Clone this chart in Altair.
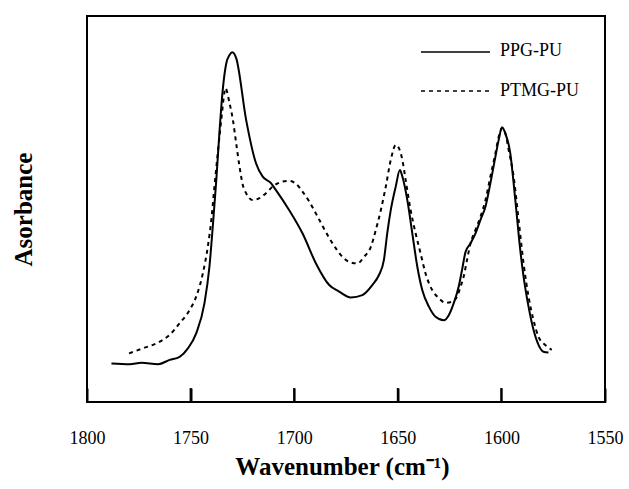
import altair as alt
import pandas as pd

# ---- data ----
series_names = ["PPG-PU", "PTMG-PU"]

ppg_wavenumber = [1788.2, 1779.4, 1773.7, 1765.7, 1760.1, 1755.3, 1751.3, 1747.3, 1743.3, 1740.9,
                  1739.3, 1737.6, 1736.0, 1734.5, 1732.8, 1731.2, 1729.9, 1728.0, 1723.2, 1718.4,
                  1715.2, 1711.2, 1708.8, 1702.4, 1696.0, 1689.5, 1683.1, 1678.3, 1672.7, 1667.1,
                  1662.3, 1659.1, 1656.7, 1655.1, 1653.4, 1651.0, 1649.0, 1647.8, 1645.4, 1643.0,
                  1640.6, 1638.2, 1635.0, 1631.8, 1627.8, 1625.4, 1623.0, 1620.6, 1619.0, 1617.3,
                  1614.9, 1612.5, 1610.1, 1607.7, 1605.3, 1602.9, 1601.3, 1599.7, 1598.1, 1595.7,
                  1594.1, 1592.5, 1590.9, 1589.3, 1586.9, 1584.5, 1582.1, 1579.7, 1577.3]
ppg_absorbance = [0.100, 0.098, 0.102, 0.098, 0.109, 0.117, 0.139, 0.178, 0.256, 0.351,
                  0.454, 0.575, 0.705, 0.808, 0.877, 0.899, 0.906, 0.891, 0.731, 0.618,
                  0.584, 0.567, 0.549, 0.497, 0.437, 0.359, 0.303, 0.286, 0.271, 0.277,
                  0.303, 0.329, 0.368, 0.437, 0.497, 0.558, 0.601, 0.584, 0.523, 0.437,
                  0.351, 0.290, 0.247, 0.221, 0.212, 0.225, 0.256, 0.299, 0.342, 0.389,
                  0.411, 0.437, 0.472, 0.506, 0.567, 0.635, 0.679, 0.712, 0.696, 0.644,
                  0.567, 0.480, 0.394, 0.325, 0.247, 0.187, 0.148, 0.130, 0.128]

ptmg_wavenumber = [1779.7, 1773.0, 1766.5, 1760.1, 1755.3, 1750.5, 1747.3, 1744.1, 1741.7, 1740.0,
                   1738.5, 1736.9, 1735.2, 1733.6, 1733.2, 1731.2, 1729.6, 1728.0, 1726.4, 1724.8,
                   1723.2, 1720.0, 1716.8, 1713.6, 1710.4, 1705.6, 1702.4, 1699.1, 1696.0, 1692.7,
                   1687.9, 1683.1, 1679.9, 1676.7, 1673.5, 1669.5, 1666.3, 1663.0, 1660.6, 1658.2,
                   1655.8, 1653.4, 1651.0, 1649.4, 1647.8, 1646.2, 1643.8, 1641.4, 1639.0, 1636.6,
                   1633.4, 1630.2, 1627.0, 1623.8, 1621.4, 1619.7, 1618.2, 1616.6, 1614.9, 1612.5,
                   1610.1, 1607.7, 1605.3, 1602.9, 1601.3, 1599.7, 1598.1, 1596.5, 1594.1, 1591.7,
                   1589.3, 1586.9, 1584.5, 1582.1, 1578.9, 1575.7]
ptmg_absorbance = [0.126, 0.139, 0.152, 0.174, 0.204, 0.238, 0.273, 0.333, 0.402, 0.472,
                   0.558, 0.644, 0.731, 0.804, 0.813, 0.774, 0.731, 0.670, 0.610, 0.562,
                   0.541, 0.523, 0.528, 0.541, 0.558, 0.571, 0.573, 0.565, 0.545, 0.519,
                   0.472, 0.425, 0.398, 0.376, 0.363, 0.359, 0.376, 0.402, 0.446, 0.497,
                   0.558, 0.627, 0.666, 0.657, 0.627, 0.575, 0.497, 0.437, 0.385, 0.333,
                   0.290, 0.269, 0.257, 0.260, 0.273, 0.299, 0.325, 0.368, 0.411, 0.446,
                   0.480, 0.523, 0.584, 0.644, 0.687, 0.709, 0.696, 0.653, 0.584, 0.472,
                   0.359, 0.273, 0.212, 0.169, 0.148, 0.135]

tick_values = [1800, 1750, 1700, 1650, 1600, 1550]
inner_ticks = [1750, 1700, 1650, 1600]

FONT = "Liberation Serif"
W, H = 518, 386
TICK = 14

# ---- tables ----
ppg_df = pd.DataFrame({"w": ppg_wavenumber, "a": ppg_absorbance})
ptmg_df = pd.DataFrame({"w": ptmg_wavenumber, "a": ptmg_absorbance})
tick_seg_df = pd.DataFrame({
    "tw": [t for t in inner_ticks for _ in (0, 1)],
    "ta": [v for _ in inner_ticks for v in (0.0, TICK / H)],
    "tid": [str(t) for t in inner_ticks for _ in (0, 1)],
})

xscale = alt.Scale(domain=[1550, 1800], reverse=True, nice=False, zero=False)
yscale = alt.Scale(domain=[0, 1], nice=False, zero=False)

x_axis = alt.Axis(values=tick_values, format="d", grid=False,
                  ticks=True, tickSize=TICK, tickWidth=2, tickColor="black", offset=-TICK,
                  domain=False, labelFont=FONT, labelFontSize=18, labelColor="black",
                  labelFlush=False, labelOverlap=False, labelBaseline="middle",
                  labelPadding=36,
                  title="Wavenumber  (cm⁻¹)", titleFont=FONT, titleFontSize=25,
                  titleFontWeight="bold", titleColor="black",
                  titleX=255, titleY=64 + TICK, titleBaseline="middle", titleAlign="center")
y_axis = alt.Axis(labels=False, ticks=False, domain=False, grid=False,
                  title="Asorbance", titleFont=FONT, titleFontSize=25,
                  titleFontWeight="bold", titleColor="black",
                  titleX=-64, titleY=H / 2, titleAngle=270,
                  titleBaseline="middle", titleAlign="center")

ppg_line = alt.Chart(ppg_df).mark_line(color="black", strokeWidth=2,
                                       interpolate="monotone").encode(
    x=alt.X("w:Q", scale=xscale, axis=x_axis),
    y=alt.Y("a:Q", scale=yscale, axis=y_axis),
)
ptmg_line = alt.Chart(ptmg_df).mark_line(color="black", strokeWidth=2, strokeDash=[4, 4],
                                         interpolate="monotone").encode(
    x=alt.X("w:Q", scale=xscale),
    y=alt.Y("a:Q", scale=yscale),
)

# inward tick marks on the bottom frame, drawn as short line segments
tick_lines = alt.Chart(tick_seg_df).mark_line(color="black", strokeWidth=2).encode(
    x=alt.X("tw:Q", scale=xscale),
    y=alt.Y("ta:Q", scale=yscale),
    detail="tid:N",
)

leg_df = pd.DataFrame({"series": series_names})

leg_line1 = alt.Chart(leg_df).transform_filter(alt.datum.series == series_names[0]).mark_rule(
    color="black", strokeWidth=1.5).encode(
    x=alt.value(334), x2=alt.value(403), y=alt.value(36))
leg_line2 = alt.Chart(leg_df).transform_filter(alt.datum.series == series_names[1]).mark_rule(
    color="black", strokeWidth=1.5, strokeDash=[4, 4]).encode(
    x=alt.value(334), x2=alt.value(403), y=alt.value(75))
leg_text1 = alt.Chart(leg_df).transform_filter(alt.datum.series == series_names[0]).mark_text(
    font=FONT, fontSize=18, align="left", baseline="middle", color="black").encode(
    x=alt.value(413), y=alt.value(35), text="series:N")
leg_text2 = alt.Chart(leg_df).transform_filter(alt.datum.series == series_names[1]).mark_text(
    font=FONT, fontSize=18, align="left", baseline="middle", color="black").encode(
    x=alt.value(413), y=alt.value(75), text="series:N")

chart = alt.layer(ppg_line, ptmg_line, tick_lines, leg_line1, leg_line2,
                  leg_text1, leg_text2).properties(
    width=W, height=H,
    autosize="none",
    padding={"left": 87, "top": 16, "right": 24, "bottom": 87},
    background="white",
).configure_view(stroke="black", strokeWidth=2)

chart.save("out.html", embed_options={"renderer": "svg", "actions": False})
